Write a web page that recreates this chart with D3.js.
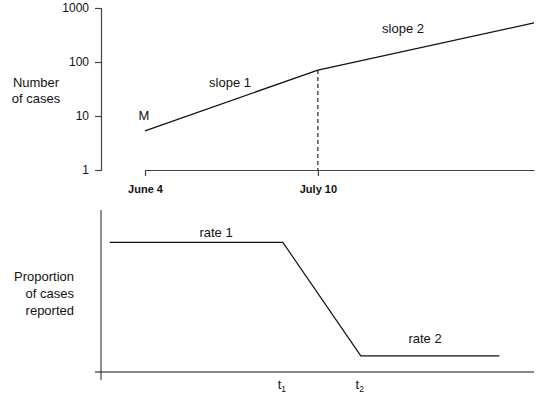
<!DOCTYPE html>
<html>
<head>
<meta charset="utf-8">
<script src="https://cdn.jsdelivr.net/npm/d3@7"></script>
<style>
  html, body { margin: 0; padding: 0; background: #fff; }
  svg { display: block; }
  svg text { font-family: "Liberation Sans", Arial, Helvetica, sans-serif; }
</style>
</head>
<body>
<svg id="chart" width="539" height="396"></svg>
<script>
// Upper panel: case counts (log scale) over days since June 4
const caseDays = [0, 36, 81];
const caseCounts = [5.3, 71, 530];
const dateTickDays = [0, 36];
const dateTickLabels = ["June 4", "July 10"];
const countTicks = [1, 10, 100, 1000];
const slopeLabels = ["slope 1", "slope 2"];

// Lower panel: proportion of cases reported over time
const reportTimes = [2, 42, 60, 92];
const reportProps = [0.80, 0.80, 0.10, 0.10];
const timeTicks = [42, 60];
const timeTickLabels = [["t", "1"], ["t", "2"]];
const rateLabels = ["rate 1", "rate 2"];

const FONT = "'Liberation Sans', Arial, Helvetica, sans-serif";
const svg = d3.select("#chart");

// ---------- upper panel ----------
const xTop = d3.scaleLinear().domain([0, 81]).range([145, 534]);
const yTop = d3.scaleLog().domain([1, 1000]).range([170, 8]);

const yAxisTop = svg.append("g")
  .attr("transform", "translate(101,0)")
  .call(d3.axisLeft(yTop).tickValues(countTicks).tickFormat(d3.format("d")).tickSize(6).tickPadding(6));
yAxisTop.attr("font-family", FONT);
yAxisTop.selectAll("path, line").attr("stroke", "#444").attr("stroke-width", 1.2);
yAxisTop.selectAll("text").attr("font-size", 12).attr("fill", "#111");

const xAxisTop = svg.append("g")
  .attr("transform", "translate(0,170)")
  .call(d3.axisBottom(xTop).tickValues(dateTickDays)
    .tickFormat((d, i) => dateTickLabels[i]).tickSize(6).tickSizeOuter(0).tickPadding(9));
xAxisTop.attr("font-family", FONT);
xAxisTop.selectAll("path, line").attr("stroke", "#444").attr("stroke-width", 1.2);
xAxisTop.selectAll("text").attr("font-size", 11).attr("font-weight", "bold").attr("fill", "#111");

svg.append("path")
  .datum(caseDays.map((d, i) => [d, caseCounts[i]]))
  .attr("fill", "none").attr("stroke", "#111").attr("stroke-width", 1.3)
  .attr("d", d3.line().x(d => xTop(d[0])).y(d => yTop(d[1])));

// dashed drop line at the change point
svg.append("line")
  .attr("x1", xTop(caseDays[1])).attr("x2", xTop(caseDays[1]))
  .attr("y1", yTop(caseCounts[1])).attr("y2", yTop(1))
  .attr("stroke", "#111").attr("stroke-width", 1.1).attr("stroke-dasharray", "4,3");

const txt = (x, y, s, anchor) => svg.append("text")
  .attr("x", x).attr("y", y).attr("text-anchor", anchor || "middle")
  .attr("font-family", FONT).attr("font-size", 13).attr("fill", "#111").text(s);

txt(xTop(caseDays[0]) - 1, yTop(10) + 4, "M");
txt(230, 87, slopeLabels[0]);
txt(403, 33, slopeLabels[1]);

const ylabTop = svg.append("text").attr("font-family", FONT).attr("font-size", 13)
  .attr("fill", "#111").attr("text-anchor", "middle");
ylabTop.append("tspan").attr("x", 36).attr("y", 87).text("Number");
ylabTop.append("tspan").attr("x", 36).attr("y", 103).text("of cases");

// ---------- lower panel ----------
const xBot = d3.scaleLinear().domain([0, 100]).range([101, 534]);
const yBot = d3.scaleLinear().domain([0, 1]).range([372, 210]);

svg.append("line").attr("x1", 101).attr("x2", 101).attr("y1", 210).attr("y2", 380)
  .attr("stroke", "#444").attr("stroke-width", 1.2);
svg.append("line").attr("x1", 95).attr("x2", 534).attr("y1", yBot(0)).attr("y2", yBot(0))
  .attr("stroke", "#111").attr("stroke-width", 1.2);

svg.append("path")
  .datum(reportTimes.map((d, i) => [d, reportProps[i]]))
  .attr("fill", "none").attr("stroke", "#111").attr("stroke-width", 1.2)
  .attr("d", d3.line().x(d => xBot(d[0])).y(d => yBot(d[1])));

txt(216, 237, rateLabels[0]);
txt(425, 343, rateLabels[1]);

timeTicks.forEach((t, i) => {
  const lab = svg.append("text").attr("x", xBot(t) - 1).attr("y", 389)
    .attr("text-anchor", "middle").attr("font-family", FONT).attr("font-size", 13).attr("fill", "#111");
  lab.append("tspan").text(timeTickLabels[i][0]);
  lab.append("tspan").attr("font-size", 8.5).attr("dy", 3).text(timeTickLabels[i][1]);
});

const ylabBot = svg.append("text").attr("font-family", FONT).attr("font-size", 13)
  .attr("fill", "#111").attr("text-anchor", "end");
ylabBot.append("tspan").attr("x", 74).attr("y", 281).text("Proportion");
ylabBot.append("tspan").attr("x", 74).attr("y", 298).text("of cases");
ylabBot.append("tspan").attr("x", 74).attr("y", 315).text("reported");
</script>
</body>
</html>
